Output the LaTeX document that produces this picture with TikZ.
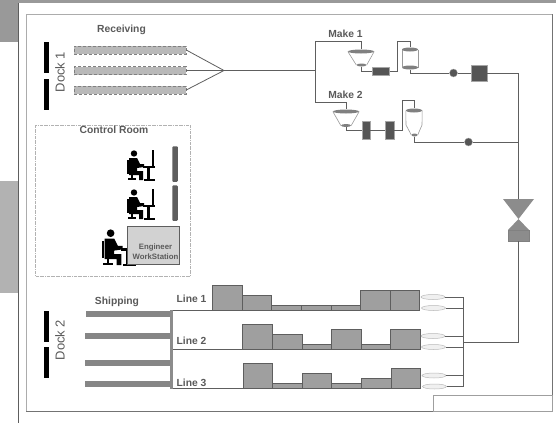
\documentclass[tikz,border=0pt]{standalone}
\usepackage{fontspec}
\setmainfont{Liberation Sans}
\usepackage{xcolor}
\usepackage{tikz}
\usetikzlibrary{shapes.geometric,positioning,calc}

\definecolor{inkgray}{HTML}{5E5E5E}
\definecolor{textgray}{HTML}{5A5A5A}

\newcommand{\worker}[2]{%
  \begin{scope}[shift={(#1)},scale=#2]
    \fill[black] (8,3.5) circle (3.2);
    \fill[black] (3,8) -- (11,8) -- (14,14) -- (18,14) -- (18,17) -- (11,18) -- (11,21) -- (17,21) -- (17,30) -- (13,30) -- (13,25) -- (3,25) -- cycle;
    \fill[black] (0.5,10) rectangle (2.5,24);
    \fill[black] (5,25) rectangle (7,28);
    \fill[black] (2,28) rectangle (10,30);
    \fill[black] (17,16) rectangle (29,18);
    \fill[black] (21,18) rectangle (24,30);
    \fill[black] (18,29) rectangle (29,31);
    \fill[black] (26,0) rectangle (27.5,17);
  \end{scope}}

\begin{document}
\begin{tikzpicture}[
        x=1pt, y=-1pt,
        pipe/.style={draw=inkgray, line width=0.8pt},
        frameline/.style={draw=gray!65, line width=1pt},
        dockbar/.style={rectangle, fill=black, minimum width=5.5pt, minimum height=31pt, inner sep=0pt},
        docklabel/.style={rotate=90, text=textgray, font=\fontsize{13}{13}\selectfont, inner sep=0pt},
        title/.style={text=textgray, font=\fontsize{10.3}{11}\selectfont\bfseries, inner sep=0pt},
        feed/.style={rectangle, draw=gray, densely dashed, line width=0.5pt, fill=gray!55, minimum width=112pt, minimum height=8pt, inner sep=0pt},
        chute/.style={rectangle, fill=gray!95, minimum width=85pt, minimum height=6pt, inner sep=0pt},
        hopperlid/.style={ellipse, fill=gray, minimum width=26pt, minimum height=4pt, inner sep=0pt},
        tankcap/.style={ellipse, fill=gray, minimum width=16pt, minimum height=4pt, inner sep=0pt},
        hoppertip/.style={ellipse, fill=gray, minimum width=10pt, minimum height=3pt, inner sep=0pt},
        block/.style={rectangle, fill=inkgray!90!black, draw=gray!70, line width=0.4pt, inner sep=0pt},
        gauge/.style={circle, fill=inkgray!90!black, draw=gray!70, line width=0.4pt, minimum size=8pt, inner sep=0pt},
        bar/.style={rectangle, anchor=south west, draw=inkgray, fill=gray!75, line width=0.8pt, minimum width=29.6pt, inner sep=0pt, outer sep=0pt},
        spout/.style={ellipse, draw=gray!55, fill=gray!12, line width=0.5pt, minimum width=24pt, minimum height=5pt, inner sep=0pt}
    ]
        \useasboundingbox (0,0) rectangle (556,423);

        % Page
        \fill[gray!80] (0,0) rectangle (556,3);
        \fill[gray!80] (0,3) rectangle (18,42);
        \fill[gray!60] (0,181) rectangle (18,293);
        \draw[draw=inkgray, line width=1pt] (18.5,3) -- (18.5,423);
        \draw[frameline] (26,14) rectangle (552,411);
        \draw[draw=gray!110, line width=1pt] (26,411) -- (552,411) -- (552,14);
        \node[draw=gray!75, line width=1pt, minimum width=119pt, minimum height=16pt, inner sep=0pt] (legend) at (492.5,403) {};

        % Dock 1 and receiving
        \node[dockbar] (d1a) at (46.7,57.5) {};
        \node[dockbar] (d1b) at (46.7,94.5) {};
        \node[docklabel] (d1) at (60,72) {Dock 1};
        \node[title] (rcv) at (121.5,30) {Receiving};
        \node[feed] (f1) at (130,50) {};
        \node[feed] (f2) at (130,70.5) {};
        \node[feed] (f3) at (130,90) {};
        \coordinate (merge) at (224,70.5);
        \coordinate (branch) at (315,70.5);
        \draw[pipe] (f1.east) -- (merge);
        \draw[pipe] (f2.east) -- (merge);
        \draw[pipe] (f3.east) -- (merge);
        \draw[pipe] (merge) -- (branch);

        % Make 1
        \node[title] (mk1) at (345.5,33.5) {Make 1};
        \node[hopperlid] (h1t) at (361,51.5) {};
        \node[hoppertip] (h1b) at (361.5,65) {};
        \node[block, minimum width=17pt, minimum height=8pt] (b1) at (381,71.5) {};
        \node[tankcap] (t1t) at (410,49.5) {};
        \node[tankcap] (t1b) at (410,67.5) {};
        \node[gauge] (dot1) at (453.5,73) {};
        \node[block, minimum width=16pt, minimum height=16pt] (sq1) at (479,73) {};
        \draw[gray!80, line width=0.6pt] (h1t.west) -- (h1b.west) (h1t.east) -- (h1b.east);
        \draw[gray!80, line width=0.6pt] (t1t.west) -- (t1b.west) (t1t.east) -- (t1b.east);

        % Make 2
        \node[title] (mk2) at (345.5,94.5) {Make 2};
        \node[hopperlid] (h2t) at (346,111.5) {};
        \node[hoppertip] (h2b) at (346,125.5) {};
        \node[block, minimum width=8.5pt, minimum height=18pt] (b2) at (366,130.5) {};
        \node[block, minimum width=8.5pt, minimum height=18pt] (b3) at (389.5,130.5) {};
        \node[tankcap] (t2t) at (414,110.5) {};
        \node[hoppertip, minimum width=6pt] (t2b) at (414.5,135) {};
        \node[gauge] (dot2) at (468.5,142) {};
        \coordinate (t2l) at (406,125);
        \coordinate (t2r) at (422,125);
        \draw[gray!80, line width=0.6pt] (h2t.west) -- (h2b.west) (h2t.east) -- (h2b.east);
        \draw[gray!80, line width=0.6pt] (t2t.west) -- (t2l) -- (t2b.west) (t2t.east) -- (t2r) -- (t2b.east);

        % Process pipes
        \coordinate (up1) at (315,41);
        \coordinate (up2) at (315,102);
        \coordinate (r1) at (397.5,41);
        \coordinate (r2) at (402.5,100.5);
        \coordinate (tee) at (518.5,142);
        \coordinate (vin) at (518.5,199);
        \draw[pipe] (h1t.north) |- (up1) -- (up2) -| (h2t.north);
        \draw[pipe] (h1b.south) |- (b1);
        \draw[pipe] (b1) -| (r1) -| (t1t.north);
        \draw[pipe] (t1b.south) |- (dot1);
        \draw[pipe] (dot1) -- (sq1);
        \draw[pipe] (sq1) -| (vin);
        \draw[pipe] (h2b.south) |- (b2);
        \draw[pipe] (b2) -- (b3);
        \draw[pipe] (b3) -| (r2) -| (t2t.north);
        \draw[pipe] (t2b.south) |- (dot2);
        \draw[pipe] (dot2) -- (tee);

        % Valve
        \node[rectangle, fill=gray!90, draw=gray, line width=0.4pt, minimum width=21pt, minimum height=11pt, inner sep=0pt] (act) at (518.5,235.5) {};
        \fill[gray!90] (vin) ++(-15.5,0) -- ++(31,0) -- ++(-15.5,20) -- cycle;
        \fill[gray!90] (518.5,219) -- (529,230) -- (508,230) -- cycle;

        % Control room
        \draw[gray!60, densely dashdotted, line width=0.5pt] (35.5,125) rectangle (190.5,276);
        \node[title] (ctl) at (114,130) {Control Room};
        \node[rectangle, rounded corners=1pt, fill=inkgray, minimum width=5.5pt, minimum height=35.5pt, inner sep=0pt] (pan1) at (175,164) {};
        \node[rectangle, rounded corners=1pt, fill=inkgray, minimum width=5.5pt, minimum height=35.5pt, inner sep=0pt] (pan2) at (175,203) {};
        \worker{126,150}{1}
        \worker{126,189}{1}
        \worker{101,229}{1.2}
        \node[rectangle, draw=inkgray, fill=gray!35, line width=0.8pt, minimum width=52pt, minimum height=38pt, inner sep=0pt] (eng) at (153,245) {};
        \node[align=center, inner sep=0pt, text=textgray, font=\fontsize{7.8}{10}\selectfont\bfseries] (engl) at (155.5,252) {Engineer\\WorkStation};

        % Dock 2 and shipping
        \node[dockbar] (d2a) at (46.7,326) {};
        \node[dockbar] (d2b) at (46.7,362.5) {};
        \node[docklabel] (d2) at (60,340) {Dock 2};
        \node[title] (shp) at (117,301.5) {Shipping};
        \node[chute] (c1) at (128,314) {};
        \node[chute] (c2) at (127.5,336) {};
        \node[chute] (c3) at (127.5,363) {};
        \node[chute] (c4) at (127.5,384) {};
        \node[rectangle, fill=gray!90, minimum width=3pt, minimum height=79pt, inner sep=0pt] (rack) at (171,349.5) {};

        % Line 1
        \node[title] (l1) at (191.5,299) {Line 1};
        \coordinate (s1) at (172.5,310.5);
        \node[bar, minimum height=25.5pt] (a1) at (212.5,310.5) {};
        \node[bar, minimum height=15.5pt] (a2) at (a1.south east) {};
        \node[bar, minimum height=5.5pt] (a3) at (a2.south east) {};
        \node[bar, minimum height=5.5pt] (a4) at (a3.south east) {};
        \node[bar, minimum height=5.5pt] (a5) at (a4.south east) {};
        \node[bar, minimum height=20.5pt] (a6) at (a5.south east) {};
        \node[bar, minimum height=20.5pt] (a7) at (a6.south east) {};
        \draw[pipe] (s1) -- (a1.south west);

        % Line 2
        \node[title] (l2) at (191.5,340.5) {Line 2};
        \coordinate (s2) at (172.5,349.5);
        \node[bar, minimum height=25.5pt] (e1) at (242.7,349.5) {};
        \node[bar, minimum height=15.5pt] (e2) at (e1.south east) {};
        \node[bar, minimum height=5pt] (e3) at (e2.south east) {};
        \node[bar, minimum height=20.5pt] (e4) at (e3.south east) {};
        \node[bar, minimum height=5pt] (e5) at (e4.south east) {};
        \node[bar, minimum height=20.5pt] (e6) at (e5.south east) {};
        \draw[pipe] (s2) -- (e1.south west);

        % Line 3
        \node[title] (l3) at (191.5,383) {Line 3};
        \coordinate (s3) at (172.5,388.5);
        \node[bar, minimum height=25.5pt] (g1) at (243,388.5) {};
        \node[bar, minimum height=5pt] (g2) at (g1.south east) {};
        \node[bar, minimum height=15.5pt] (g3) at (g2.south east) {};
        \node[bar, minimum height=5pt] (g4) at (g3.south east) {};
        \node[bar, minimum height=10.5pt] (g5) at (g4.south east) {};
        \node[bar, minimum height=20.5pt] (g6) at (g5.south east) {};
        \draw[pipe] (s3) -- (g1.south west);

        % Spouts
        \node[spout] (o1) at (433,297) {};
        \node[spout] (o2) at (433.5,308) {};
        \node[spout] (o3) at (433,336) {};
        \node[spout] (o4) at (433.5,347) {};
        \node[spout] (o5) at (434,375.5) {};
        \node[spout] (o6) at (434.5,386.5) {};
        \coordinate (m1) at (463.5,297);
        \coordinate (m2) at (463.5,386.5);
        \coordinate (m3) at (463.5,342.5);
        \coordinate (m4) at (518.5,342.5);
        \draw[pipe] (o1.east) -- (m1) -- (m2) -- (o6.east);
        \draw[pipe] (o2.east) -- (o2 -| m1);
        \draw[pipe] (o3.east) -- (o3 -| m1);
        \draw[pipe] (o4.east) -- (o4 -| m1);
        \draw[pipe] (o5.east) -- (o5 -| m1);
        \draw[pipe] (m3) -- (m4) -- (act.south);
    \end{tikzpicture}
\end{document}
